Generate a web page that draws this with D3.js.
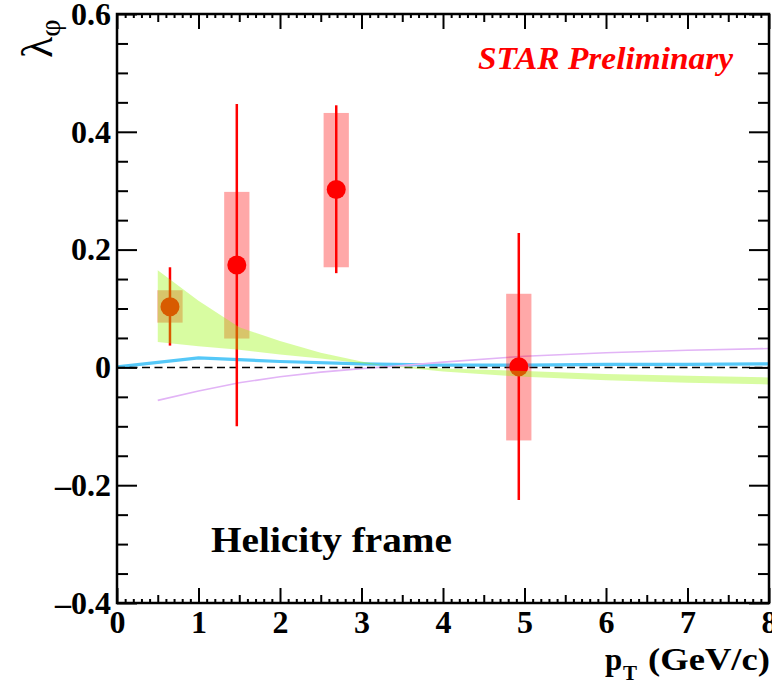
<!DOCTYPE html>
<html>
<head>
<meta charset="utf-8">
<script src="https://cdn.jsdelivr.net/npm/d3@7"></script>
<style>
  html, body { margin: 0; padding: 0; background: #fff; }
  svg { display: block; }
  text { font-family: "Liberation Serif", "Times New Roman", serif; font-weight: bold; }
</style>
</head>
<body>
<svg id="chart" width="772" height="681"></svg>
<script>
// ---------- data ----------
const ptData   = [0.65, 1.47, 2.69, 4.93];
const lamData  = [0.103, 0.174, 0.302, 0.001];
const statLo   = [0.037, -0.100, 0.160, -0.225];
const statHi   = [0.170, 0.447, 0.445, 0.228];
const sysLo    = [0.076, 0.049, 0.170, -0.124];
const sysHi    = [0.131, 0.298, 0.432, 0.125];
const sysHalfWidth = 0.155; // in pT units

// green model band
const greenX  = [0.5, 1.0, 1.5, 2.0, 2.5, 3.0, 3.3, 4.0, 5.0, 6.0, 7.0, 8.0];
const greenHi = [0.165, 0.113, 0.068, 0.045, 0.025, 0.010, 0.003, -0.002, -0.006, -0.011, -0.014, -0.017];
const greenLo = [0.043, 0.036, 0.030, 0.022, 0.015, 0.007, 0.003, -0.007, -0.016, -0.022, -0.026, -0.029];

// blue model curve
const blueX = [0, 1.0, 2.0, 3.0, 4.0, 5.0, 6.0, 7.0, 8.0];
const blueY = [0.001, 0.016, 0.010, 0.006, 0.004, 0.004, 0.005, 0.005, 0.006];

// violet model curve
const violetX = [0.5, 1.0, 1.5, 2.0, 2.5, 3.0, 3.5, 4.0, 5.0, 6.0, 7.0, 8.0];
const violetY = [-0.056, -0.040, -0.026, -0.016, -0.008, -0.002, 0.003, 0.009, 0.019, 0.025, 0.029, 0.032];

// ticks
const xMajorTicks = [0, 1, 2, 3, 4, 5, 6, 7, 8];
const xHalfTicks  = [0.5, 1.5, 2.5, 3.5, 4.5, 5.5, 6.5, 7.5];
const xMinorTicks = d3.range(0, 80).map(i => i / 10).filter((v, i) => i % 5 !== 0);
const yMajorTicks = [-0.4, -0.2, 0, 0.2, 0.4, 0.6];
const yMinorTicks = d3.range(-8, 13).map(i => i * 0.05).filter((v, i) => (i % 4) !== 0);

const yLabel = "λ";
const yLabelSub = "φ";
const xLabel = "p";
const xLabelSub = "T";
const xLabelUnit = "(GeV/c)";
const frameLabel = "Helicity frame";
const starLabel = "STAR Preliminary";

// ---------- layout ----------
const svg = d3.select("#chart");
const L = 117, R = 769, T = 14, B = 603;
const x = d3.scaleLinear().domain([0, 8]).range([L, R]);
const y = d3.scaleLinear().domain([-0.4, 0.6]).range([B, T]);

svg.append("rect").attr("width", 772).attr("height", 681).attr("fill", "#fff");

svg.append("defs").append("clipPath").attr("id", "plotclip")
  .append("rect").attr("x", L).attr("y", T).attr("width", R - L).attr("height", B - T);

const plot = svg.append("g").attr("clip-path", "url(#plotclip)");

// blue curve
plot.append("path")
  .datum(blueX.map((v, i) => [v, blueY[i]]))
  .attr("d", d3.line().x(d => x(d[0])).y(d => y(d[1])))
  .attr("fill", "none").attr("stroke", "#55c8f8").attr("stroke-width", 3.2);

// violet curve
plot.append("path")
  .datum(violetX.map((v, i) => [v, violetY[i]]))
  .attr("d", d3.line().x(d => x(d[0])).y(d => y(d[1])))
  .attr("fill", "none").attr("stroke", "#e2b4f6").attr("stroke-width", 1.6);

// dashed zero line
plot.append("line")
  .attr("x1", x(0)).attr("x2", x(8)).attr("y1", y(0)).attr("y2", y(0))
  .attr("stroke", "#000").attr("stroke-width", 1.5).attr("stroke-dasharray", "8,4.5");

// systematic boxes
plot.selectAll("rect.sys").data(ptData).enter().append("rect")
  .attr("class", "sys")
  .attr("x", d => x(d - sysHalfWidth))
  .attr("width", d => x(d + sysHalfWidth) - x(d - sysHalfWidth))
  .attr("y", (d, i) => y(sysHi[i]))
  .attr("height", (d, i) => y(sysLo[i]) - y(sysHi[i]))
  .attr("fill", "#ff0000").attr("fill-opacity", 0.34);

// stat errors
plot.selectAll("line.stat").data(ptData).enter().append("line")
  .attr("class", "stat")
  .attr("x1", d => x(d)).attr("x2", d => x(d))
  .attr("y1", (d, i) => y(statHi[i])).attr("y2", (d, i) => y(statLo[i]))
  .attr("stroke", "#ff0000").attr("stroke-width", 2.5);

// markers
plot.selectAll("circle.pt").data(ptData).enter().append("circle")
  .attr("class", "pt")
  .attr("cx", d => x(d)).attr("cy", (d, i) => y(lamData[i]))
  .attr("r", 9.5).attr("fill", "#ff0000");

// green band (drawn on top, translucent)
plot.append("path")
  .datum(greenX.map((v, i) => [v, greenLo[i], greenHi[i]]))
  .attr("d", d3.area().x(d => x(d[0])).y0(d => y(d[1])).y1(d => y(d[2])))
  .attr("fill", "rgb(150,247,0)").attr("fill-opacity", 0.37);

// ---------- axes ----------
const fmtY = d => d === 0 ? "0" : (d < 0 ? "–" : "") + Math.abs(d).toFixed(1);

function styleAxis(g, fontSize) {
  g.select(".domain").remove();
  g.selectAll(".tick line").attr("stroke", "#000").attr("stroke-width", 2);
  g.selectAll(".tick text").attr("fill", "#000")
    .style("font-family", "'Liberation Serif', serif").style("font-weight", "bold")
    .style("font-size", fontSize + "px");
}

const FS = 32;
// bottom
svg.append("g").attr("transform", `translate(0,${B})`)
  .call(d3.axisBottom(x).tickValues(xMajorTicks).tickSize(-15).tickPadding(7).tickFormat(d3.format("d")))
  .call(g => styleAxis(g, FS));
svg.append("g").attr("transform", `translate(0,${B})`)
  .call(d3.axisBottom(x).tickValues(xHalfTicks).tickSize(-8).tickFormat(""))
  .call(g => styleAxis(g, FS));
svg.append("g").attr("transform", `translate(0,${B})`)
  .call(d3.axisBottom(x).tickValues(xMinorTicks).tickSize(-4).tickFormat(""))
  .call(g => styleAxis(g, FS));
// top
svg.append("g").attr("transform", `translate(0,${T})`)
  .call(d3.axisTop(x).tickValues(xMajorTicks).tickSize(-15).tickFormat(""))
  .call(g => styleAxis(g, FS));
svg.append("g").attr("transform", `translate(0,${T})`)
  .call(d3.axisTop(x).tickValues(xHalfTicks).tickSize(-8).tickFormat(""))
  .call(g => styleAxis(g, FS));
svg.append("g").attr("transform", `translate(0,${T})`)
  .call(d3.axisTop(x).tickValues(xMinorTicks).tickSize(-4).tickFormat(""))
  .call(g => styleAxis(g, FS));
// left
svg.append("g").attr("transform", `translate(${L},0)`)
  .call(d3.axisLeft(y).tickValues(yMajorTicks).tickSize(-20).tickPadding(6).tickFormat(fmtY))
  .call(g => styleAxis(g, FS));
svg.append("g").attr("transform", `translate(${L},0)`)
  .call(d3.axisLeft(y).tickValues(yMinorTicks).tickSize(-11).tickFormat(""))
  .call(g => styleAxis(g, FS));
// right
svg.append("g").attr("transform", `translate(${R},0)`)
  .call(d3.axisRight(y).tickValues(yMajorTicks).tickSize(-20).tickFormat(""))
  .call(g => styleAxis(g, FS));
svg.append("g").attr("transform", `translate(${R},0)`)
  .call(d3.axisRight(y).tickValues(yMinorTicks).tickSize(-11).tickFormat(""))
  .call(g => styleAxis(g, FS));

// frame
svg.append("rect").attr("x", L).attr("y", T).attr("width", R - L).attr("height", B - T)
  .attr("fill", "none").attr("stroke", "#000").attr("stroke-width", 2.5);

// ---------- labels ----------
svg.append("text")
  .attr("x", 478).attr("y", 69)
  .attr("fill", "#ff0000").style("font-style", "italic").style("font-size", "31px")
  .attr("textLength", 255).attr("lengthAdjust", "spacingAndGlyphs")
  .text(starLabel);

svg.append("text")
  .attr("x", 211).attr("y", 552)
  .attr("fill", "#000").style("font-size", "36px")
  .attr("textLength", 241).attr("lengthAdjust", "spacingAndGlyphs")
  .text(frameLabel);

const xl = svg.append("text").attr("fill", "#000").attr("y", 670).style("font-size", "31px");
xl.append("tspan").attr("x", 605).text(xLabel);
xl.append("tspan").attr("x", 623).attr("dy", 10).style("font-size", "21px").text(xLabelSub);
xl.append("tspan").attr("x", 648).attr("dy", -10)
  .attr("textLength", 122).attr("lengthAdjust", "spacingAndGlyphs").text(xLabelUnit);

const yl = svg.append("text").attr("fill", "#000")
  .attr("transform", "translate(52,58) rotate(-90)").style("font-size", "44px")
  .style("font-weight", "normal");
yl.append("tspan").text(yLabel);
yl.append("tspan").attr("dy", 8).style("font-size", "30px").text(yLabelSub);
</script>
</body>
</html>
